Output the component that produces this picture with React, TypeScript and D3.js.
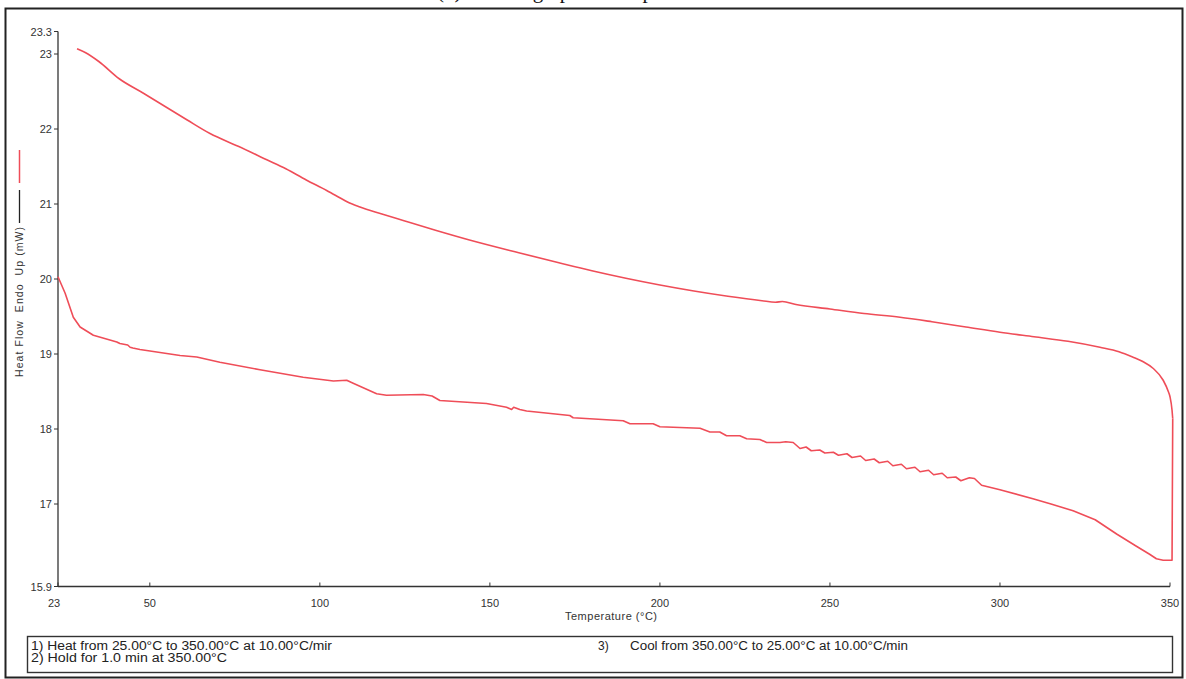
import React from "react";
import * as d3 from "d3";

const W = 1186;
const H = 679;

// Heating run (°C, mW)
const heatTemp = [28.6, 31, 35, 41, 48, 54.5, 61, 67.7, 76, 84.4, 90, 96, 102, 106, 108, 111.8, 118, 124.5, 134, 144, 158.5, 170, 180, 190, 200, 210, 220, 230, 234, 236, 240, 250, 260, 270.6, 280, 290, 300, 310, 320, 329.4, 335, 339, 342, 345, 348, 349.5, 350, 350.6, 350.8];
const heatFlow = [23.07, 23.02, 22.9, 22.67, 22.48, 22.3, 22.12, 21.94, 21.77, 21.59, 21.47, 21.32, 21.18, 21.08, 21.03, 20.96, 20.87, 20.78, 20.65, 20.52, 20.35, 20.22, 20.11, 20.01, 19.92, 19.84, 19.77, 19.71, 19.69, 19.7, 19.66, 19.6, 19.54, 19.49, 19.43, 19.36, 19.29, 19.23, 19.17, 19.09, 19.03, 18.96, 18.9, 18.81, 18.65, 18.5, 18.43, 18.25, 18.14];

// Cooling run (°C, mW), from 350 down to 23
const coolTemp = [350.8, 350.6, 348, 346, 344, 340, 334.3, 328, 321.5, 315, 309.7, 300, 294.6, 292.5, 291, 288.5, 287, 284.5, 283, 280.5, 279, 276.5, 275, 272.5, 271, 268.5, 267, 264.5, 263, 260.5, 259, 256.5, 255, 252.5, 251, 248.5, 247, 244.5, 243, 241.2, 239.2, 237, 235.3, 231.4, 229.4, 225.5, 223.5, 219.6, 217.6, 214.7, 211.8, 200, 198, 191.2, 189.2, 174.5, 173.5, 160.8, 158.8, 157, 156.4, 155.4, 154.9, 149, 135.3, 133, 130.4, 119.6, 116.7, 109.8, 107.9, 104, 95.1, 82.4, 70.6, 63.8, 58.9, 47.1, 45, 44.2, 43.5, 41.2, 40.3, 33.4, 29.5, 27.5, 25.1, 23];
const coolFlow = [18.14, 16.25, 16.25, 16.27, 16.33, 16.44, 16.6, 16.79, 16.91, 17.0, 17.07, 17.19, 17.25, 17.34, 17.35, 17.31, 17.36, 17.35, 17.41, 17.39, 17.45, 17.43, 17.49, 17.47, 17.53, 17.51, 17.57, 17.55, 17.6, 17.58, 17.64, 17.62, 17.67, 17.65, 17.69, 17.68, 17.72, 17.71, 17.76, 17.74, 17.82, 17.83, 17.82, 17.82, 17.86, 17.87, 17.91, 17.91, 17.96, 17.96, 18.01, 18.03, 18.07, 18.07, 18.11, 18.15, 18.18, 18.24, 18.26, 18.29, 18.26, 18.28, 18.29, 18.34, 18.38, 18.44, 18.46, 18.45, 18.47, 18.61, 18.65, 18.64, 18.69, 18.79, 18.89, 18.96, 18.98, 19.06, 19.08, 19.09, 19.12, 19.14, 19.16, 19.25, 19.36, 19.49, 19.81, 20.03];

const xTicks = [23, 50, 100, 150, 200, 250, 300, 350];
const yTicks = [15.9, 17, 18, 19, 20, 21, 22, 23, 23.3];

const yLabel = "Heat Flow  Endo  Up (mW)";
const xLabel = "Temperature (°C)";
const methodLeft = ["1) Heat from 25.00°C to 350.00°C at 10.00°C/mir", "2) Hold for 1.0 min at 350.00°C"];
const methodLeftWidths = [301, 196];
const methodRightNum = "3)";
const methodRight = "Cool from 350.00°C to 25.00°C at 10.00°C/min";
const title = "(b) Thermograph of sample";

export default function App() {
  const x = d3.scaleLinear().domain([23, 350]).range([58, 1170]);
  const y = d3.scaleLinear().domain([15.9, 23]).range([586.5, 54]);

  const heatPts: [number, number][] = heatTemp.map((t, i) => [t, heatFlow[i]]);
  const coolPts: [number, number][] = coolTemp.map((t, i) => [t, coolFlow[i]]);
  const smooth = d3
    .line<[number, number]>()
    .x((d) => x(d[0]))
    .y((d) => y(d[1]))
    .curve(d3.curveMonotoneX);
  const straight = d3
    .line<[number, number]>()
    .x((d) => x(d[0]))
    .y((d) => y(d[1]))
    .curve(d3.curveLinear);

  const font = "'Liberation Sans', Arial, sans-serif";
  const axisColor = "#333";
  const curveColor = "#ef4d58";
  const x0 = x(23);
  const yBase = y(15.9);

  return (
    <svg
      width={W}
      height={H}
      style={{ position: "absolute", left: 0, top: 0, background: "#fff" }}
      fontFamily={font}
    >
      <rect x={0} y={0} width={W} height={H} fill="#fff" />
      <text x={437} y={-2} fontFamily="'Liberation Serif', 'Times New Roman', serif" fontSize={21} fill="#111">
        {title}
      </text>
      <rect x={5.5} y={8.5} width={1177} height={669} fill="none" stroke="#222" strokeWidth={2} />

      {/* y axis */}
      <line x1={x0} x2={x0} y1={y(23.3)} y2={yBase} stroke={axisColor} strokeWidth={1.3} />
      {yTicks.map((v) => (
        <g key={"y" + v}>
          <line x1={x0 - 4} x2={x0} y1={y(v)} y2={y(v)} stroke={axisColor} strokeWidth={1} />
          <text x={x0 - 6} y={y(v) + 4} textAnchor="end" fontSize={11} fill="#333">
            {String(v)}
          </text>
        </g>
      ))}

      {/* x axis */}
      <line x1={x0} x2={x(350)} y1={yBase} y2={yBase} stroke={axisColor} strokeWidth={1.3} />
      {xTicks.map((v) => (
        <g key={"x" + v}>
          <line x1={x(v)} x2={x(v)} y1={yBase - 4} y2={yBase} stroke={axisColor} strokeWidth={1} />
          <text x={x(v) - (v === 23 ? 4 : 0)} y={yBase + 20} textAnchor="middle" fontSize={11} fill="#333">
            {String(v)}
          </text>
        </g>
      ))}
      <text x={611} y={620} textAnchor="middle" fontSize={11} fill="#333" textLength={92} lengthAdjust="spacing">
        {xLabel}
      </text>

      {/* y label with legend swatches */}
      <text
        transform="translate(23,377) rotate(-90)"
        fontSize={10.5}
        fill="#333"
        textLength={150}
        lengthAdjust="spacing"
        style={{ whiteSpace: "pre" }}
      >
        {yLabel}
      </text>
      <line x1={19.5} x2={19.5} y1={190} y2={223} stroke="#222" strokeWidth={1.3} />
      <line x1={19.5} x2={19.5} y1={150} y2={183} stroke={curveColor} strokeWidth={1.5} />

      {/* curve */}
      <path d={smooth(heatPts) || ""} fill="none" stroke={curveColor} strokeWidth={1.6} strokeLinejoin="round" />
      <path d={straight(coolPts) || ""} fill="none" stroke={curveColor} strokeWidth={1.6} strokeLinejoin="round" />

      {/* method box */}
      <rect x={27.5} y={636.5} width={1145} height={36} fill="none" stroke="#333" strokeWidth={1.4} />
      {methodLeft.map((s, i) => (
        <text key={s} x={31} y={650 + i * 12} fontSize={12} fill="#222" textLength={methodLeftWidths[i]} lengthAdjust="spacingAndGlyphs">
          {s}
        </text>
      ))}
      <text x={598} y={650} fontSize={12} fill="#222">
        {methodRightNum}
      </text>
      <text x={630} y={650} fontSize={12} fill="#222" textLength={278} lengthAdjust="spacingAndGlyphs">
        {methodRight}
      </text>
    </svg>
  );
}
